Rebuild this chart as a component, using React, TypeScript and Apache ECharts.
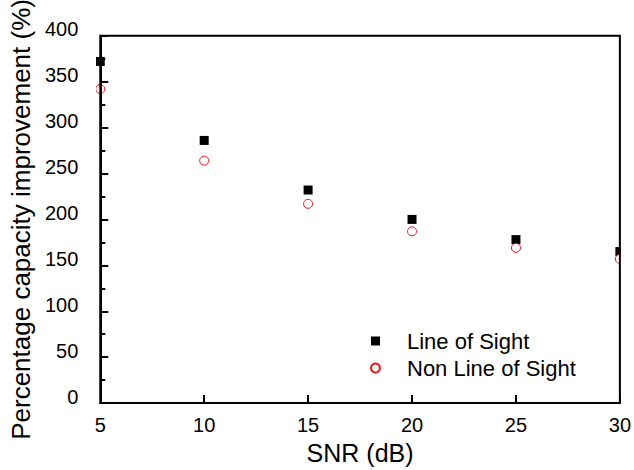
import React, { useEffect, useRef } from "react";
import * as echarts from "echarts";

const snr = [5, 10, 15, 20, 25, 30];
const lineOfSight = [372, 286, 232, 200, 178, 165];
const nonLineOfSight = [342, 264, 217, 187, 169, 157];

const FONT = "'Liberation Sans', Arial, sans-serif";

export default function App() {
  const ref = useRef<HTMLDivElement>(null);
  useEffect(() => {
    if (!ref.current) return;
    const chart = echarts.init(ref.current, null, { renderer: "svg" });
    const gl = 97, gr = 14, gt = 28, gb = 59;
    chart.setOption({
      animation: false,
      backgroundColor: "#fff",
      textStyle: { fontFamily: FONT },
      grid: { left: gl, right: gr, top: gt, bottom: gb, show: true, borderColor: "#000", borderWidth: 2, z: 5 },
      xAxis: {
        type: "value",
        min: 5,
        max: 30,
        interval: 5,
        name: "SNR (dB)",
        nameLocation: "middle",
        nameGap: 36,
        nameTextStyle: { fontSize: 25, color: "#000", fontFamily: FONT },
        axisLine: { lineStyle: { color: "#000", width: 2 } },
        axisTick: { inside: true, length: 8, lineStyle: { color: "#000", width: 2 } },
        axisLabel: { fontSize: 20, color: "#000", margin: 12, fontFamily: FONT },
        splitLine: { show: false },
        z: 6,
      },
      yAxis: {
        type: "value",
        min: 0,
        max: 400,
        interval: 50,
        name: "Percentage capacity improvement (%)",
        nameLocation: "middle",
        nameGap: 52,
        nameTextStyle: { fontSize: 26, color: "#000", fontFamily: FONT },
        axisLine: { lineStyle: { color: "#000", width: 2 } },
        axisTick: { inside: true, length: 8, lineStyle: { color: "#000", width: 2 } },
        minorTick: { show: true, splitNumber: 2, length: 5, lineStyle: { color: "#000", width: 2 } },
        axisLabel: { fontSize: 20, color: "#000", margin: 22, verticalAlign: "bottom", lineHeight: 13, fontFamily: FONT },
        splitLine: { show: false },
        z: 6,
      },
      legend: {
        orient: "vertical",
        left: 365,
        top: 325,
        itemGap: 5,
        itemWidth: 9,
        itemHeight: 9,
        textStyle: { fontSize: 22, color: "#000", fontFamily: FONT, padding: [0, 0, 0, 22] },
        data: [
          { name: "Line of Sight", icon: "rect" },
          { name: "Non Line of Sight", icon: "circle" },
        ],
      },
      graphic: [
        { type: "rect", z: 4, shape: { x: 84, y: gt - 6, width: gl - 84 - 1, height: 470 - gt - gb + 6 }, style: { fill: "#fff" } },
        { type: "rect", z: 4, shape: { x: 634 - gr + 1, y: gt - 6, width: gr, height: 470 - gt - gb + 6 }, style: { fill: "#fff" } },
      ],
      series: [
        {
          name: "Line of Sight",
          type: "scatter",
          symbol: "rect",
          symbolSize: 9,
          itemStyle: { color: "#000", opacity: 1 },
          data: snr.map((x, i) => [x, lineOfSight[i]]),
          z: 2,
        },
        {
          name: "Non Line of Sight",
          type: "scatter",
          symbol: "circle",
          symbolSize: 9,
          itemStyle: { color: "#fff", borderColor: "#e8141c", borderWidth: 1, opacity: 1 },
          data: snr.map((x, i) => [x, nonLineOfSight[i]]),
          z: 3,
        },
      ],
    });
    return () => chart.dispose();
  }, []);
  return <div ref={ref} style={{ width: 634, height: 470, position: "absolute", left: 0, top: 0 }} />;
}
